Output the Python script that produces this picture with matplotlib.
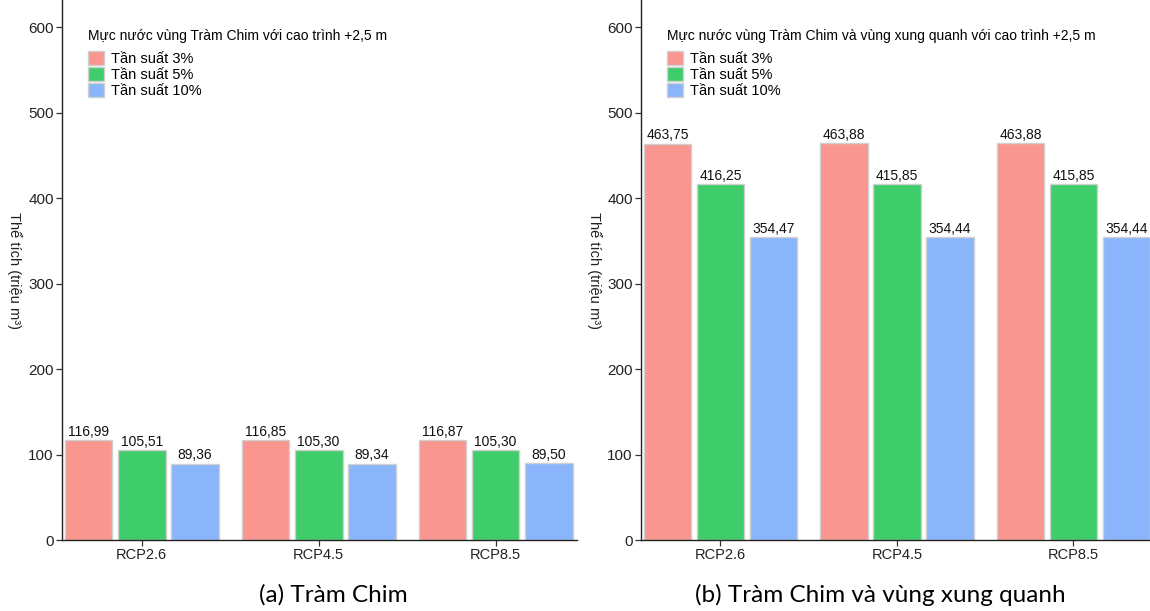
import matplotlib
matplotlib.use("Agg")
import matplotlib.pyplot as plt
from matplotlib.patches import Patch
import numpy as np

plt.rcParams['font.family'] = ['Liberation Sans', 'DejaVu Sans']

scenarios = ["RCP2.6", "RCP4.5", "RCP8.5"]
series_names = ["Tần suất 3%", "Tần suất 5%", "Tần suất 10%"]
colors = ["#F8968F", "#3FCC6A", "#8BB5FB"]

# Volume (million m3) for each frequency, per scenario
tram_chim_3 = [116.99, 116.85, 116.87]
tram_chim_5 = [105.51, 105.30, 105.30]
tram_chim_10 = [89.36, 89.34, 89.50]

vung_xq_3 = [463.75, 463.88, 463.88]
vung_xq_5 = [416.25, 415.85, 415.85]
vung_xq_10 = [354.47, 354.44, 354.44]

titles = ["Mực nước vùng Tràm Chim với cao trình +2,5 m",
          "Mực nước vùng Tràm Chim và vùng xung quanh với cao trình +2,5 m"]
captions = ["(a) Tràm Chim", "(b) Tràm Chim và vùng xung quanh"]
yticks = [0, 100, 200, 300, 400, 500, 600]
ylabel = "Thể tích (triệu m³)"

W, H = 1150, 611
fig = plt.figure(figsize=(W / 100, H / 100), dpi=100)

def frac(x0, x1, ytop, ybot):
    return [x0 / W, 1 - ybot / H, (x1 - x0) / W, (ybot - ytop) / H]

ax_a = fig.add_axes(frac(62, 577, 0, 540))
ax_b = fig.add_axes(frac(641, 1150, 0, 540))

def fmt(v):
    return f"{v:.2f}".replace(".", ",")

def draw(ax, data, title, xmax, leg_x, ylab_x):
    x = np.arange(1, len(scenarios) + 1)
    step = 0.3
    bw = 0.27
    for i, (vals, col) in enumerate(zip(data, colors)):
        pos = x + (i - 1) * step
        bars = ax.bar(pos, vals, width=bw, color=col, edgecolor="#D0D0D0",
                      linewidth=1.0, zorder=2)
        for b, v in zip(bars, vals):
            ax.text(b.get_x() + b.get_width() / 2, v + 1.5, fmt(v),
                    ha="center", va="bottom", fontsize=10, color="#111111")
    ax.set_xlim(0.55, xmax)
    ax.set_ylim(0, 631.6)
    ax.set_xticks(x)
    ax.set_xticklabels(scenarios, fontsize=10.5)
    ax.set_yticks(yticks)
    ax.set_yticklabels([str(t) for t in yticks], fontsize=11)
    for s in ["top", "right"]:
        ax.spines[s].set_visible(False)
    for s in ["left", "bottom"]:
        ax.spines[s].set_linewidth(1.0)
        ax.spines[s].set_color("#222222")
    ax.tick_params(axis="both", length=4, width=0.9, color="#333333",
                   labelcolor="#222222", pad=2)
    ax.set_ylabel(ylabel, rotation=270, fontsize=10.5, color="#222222",
                  va="center")
    ax.yaxis.set_label_coords(ylab_x, 0.5)
    handles = [Patch(facecolor=c, edgecolor="#D0D0D0", linewidth=1.0) for c in colors]
    leg = ax.legend(handles, series_names, title=title, loc="upper left",
                    bbox_to_anchor=(leg_x, 0.947), frameon=False, fontsize=10.5,
                    title_fontsize=10, alignment="left", handlelength=1.1,
                    handleheight=1.1, handletextpad=0.5, labelspacing=0.08,
                    borderaxespad=0.0, borderpad=0.0)
    leg._legend_box.sep = 6

draw(ax_a, [tram_chim_3, tram_chim_5, tram_chim_10], titles[0], 3.46,
     (88 - 62) / 515, (14 - 62) / 515)
draw(ax_b, [vung_xq_3, vung_xq_5, vung_xq_10], titles[1], 3.434,
     (667 - 641) / 509, (594 - 641) / 509)

fig.text(333 / W, 1 - 595 / H, captions[0], ha="center", va="center",
         fontsize=17.5, family="Lato")
fig.text(880 / W, 1 - 595 / H, captions[1], ha="center", va="center",
         fontsize=17.5, family="Lato")

fig.savefig("out.png", dpi=100, facecolor="white")
